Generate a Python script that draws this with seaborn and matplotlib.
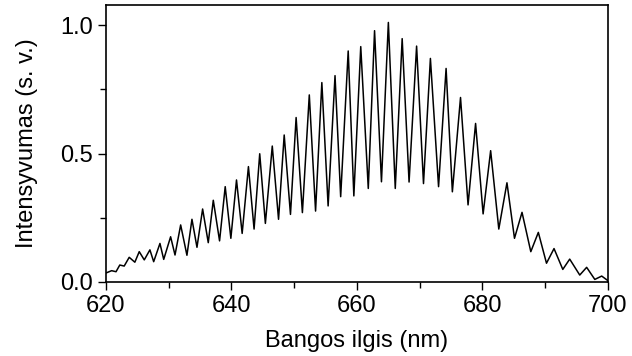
import numpy as np
import pandas as pd
import seaborn as sns
import matplotlib.pyplot as plt
from matplotlib.ticker import MultipleLocator

# spektro taškai (nuskaityti nuo paveikslo): bangos ilgis ir intensyvumas
wavelength = [620.0, 620.9, 621.6, 622.2, 622.9, 623.7, 624.6, 625.3, 626.1, 627.0,
              627.6, 628.6, 629.2, 630.3, 631.0, 631.9, 632.9, 633.7, 634.5, 635.4,
              636.3, 637.1, 638.1, 639.0, 639.9, 640.8, 641.7, 642.7, 643.6, 644.5,
              645.4, 646.5, 647.5, 648.4, 649.4, 650.3, 651.3, 652.4, 653.4, 654.4,
              655.4, 656.5, 657.4, 658.6, 659.5, 660.6, 661.8, 662.8, 663.9, 665.0,
              666.1, 667.2, 668.3, 669.5, 670.6, 671.7, 673.0, 674.2, 675.2, 676.5,
              677.7, 678.9, 680.1, 681.3, 682.6, 683.9, 685.1, 686.3, 687.7, 688.9,
              690.2, 691.4, 692.8, 693.9, 695.5, 696.6, 697.9, 699.0, 700.0]
intensity = [0.035, 0.044, 0.040, 0.066, 0.062, 0.096, 0.077, 0.118, 0.086, 0.125,
             0.079, 0.150, 0.088, 0.176, 0.105, 0.222, 0.104, 0.244, 0.135, 0.284,
             0.153, 0.318, 0.160, 0.371, 0.170, 0.397, 0.189, 0.449, 0.206, 0.499,
             0.228, 0.529, 0.244, 0.572, 0.263, 0.640, 0.270, 0.728, 0.276, 0.776,
             0.296, 0.803, 0.332, 0.899, 0.335, 0.916, 0.364, 0.978, 0.390, 1.010,
             0.364, 0.947, 0.389, 0.918, 0.383, 0.870, 0.371, 0.831, 0.351, 0.718,
             0.300, 0.617, 0.265, 0.511, 0.206, 0.386, 0.170, 0.271, 0.118, 0.193,
             0.073, 0.130, 0.049, 0.089, 0.027, 0.057, 0.010, 0.023, 0.005]

x_ticks = [620, 640, 660, 680, 700]
y_ticks = [0.0, 0.5, 1.0]

df = pd.DataFrame({"lambda": wavelength, "I": intensity})

sns.set_theme(style="ticks")
plt.rcParams['font.family'] = ['Liberation Sans', 'DejaVu Sans']
plt.rcParams['text.color'] = 'black'
plt.rcParams['axes.labelcolor'] = 'black'

fig = plt.figure(figsize=(6.32, 3.56), dpi=100)
ax = fig.add_axes([0.1677, 0.2079, 0.7943, 0.7781])

sns.lineplot(data=df, x="lambda", y="I", color="black", linewidth=1.1, ax=ax)

ax.set_xlim(620, 700)
ax.set_ylim(0, 1.078)
ax.set_xticks(x_ticks)
ax.set_yticks(y_ticks)
ax.set_yticklabels([f"{v:.1f}" for v in y_ticks])
ax.xaxis.set_minor_locator(MultipleLocator(10))
ax.yaxis.set_minor_locator(MultipleLocator(0.25))
ax.tick_params(which="major", direction="out", length=6, width=1, labelsize=17,
               colors="black", labelcolor="black")
ax.tick_params(which="minor", direction="out", length=4, width=1, colors="black")
ax.tick_params(top=False, right=False, which="both")

for s in ax.spines.values():
    s.set_visible(True)
    s.set_linewidth(1.2)
    s.set_color("black")

ax.set_xlabel("Bangos ilgis (nm)", fontsize=17, labelpad=9, color="black")
ax.set_ylabel("Intensyvumas (s. v.)", fontsize=17, labelpad=16, color="black")

fig.savefig("out.png", dpi=100)
plt.close()
